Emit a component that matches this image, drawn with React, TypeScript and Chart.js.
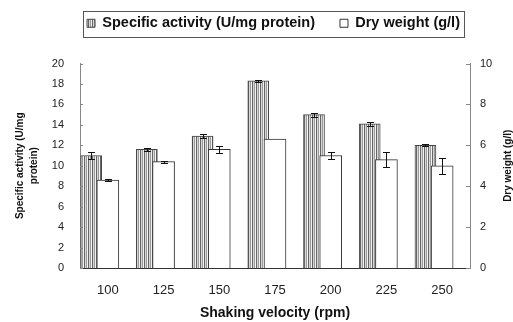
import React, { useEffect, useRef } from 'react';
import { Chart, registerables } from 'chart.js';

Chart.register(...registerables);

const categories = ['100', '125', '150', '175', '200', '225', '250'];
const specificActivity = [11.0, 11.6, 12.9, 18.3, 15.0, 14.1, 12.0];
const specificActivityErr = [0.35, 0.15, 0.2, 0.1, 0.2, 0.2, 0.1];
const dryWeight = [4.3, 5.2, 5.8, 6.3, 5.5, 5.3, 5.0];
const dryWeightErr = [0.05, 0.05, 0.18, 0, 0.15, 0.35, 0.4];

const leftAxis = { min: 0, max: 20, step: 2 };
const rightAxis = { min: 0, max: 10, step: 2 };
// specific-activity bars sit left of the category centre (fraction of a category)
const specificShift = 0.3;

const FONT = "'Liberation Sans', Arial, sans-serif";

function makeStripe(): CanvasPattern | string {
  const c = document.createElement('canvas');
  c.width = 4;
  c.height = 4;
  const g = c.getContext('2d');
  if (!g) return '#aaa';
  const cols = ['#666666', '#d6d6d6', '#9c9c9c', '#f2f2f2'];
  cols.forEach((col, i) => {
    g.fillStyle = col;
    g.fillRect(i, 0, 1, 4);
  });
  return g.createPattern(c, 'repeat') || '#aaa';
}

const errorBarPlugin = {
  id: 'errorBars',
  afterDatasetsDraw(chart: any) {
    const ctx = chart.ctx;
    const sets = [
      { idx: 0, vals: specificActivity, errs: specificActivityErr, axis: 'y' },
      { idx: 1, vals: dryWeight, errs: dryWeightErr, axis: 'y1' },
    ];
    ctx.save();
    ctx.strokeStyle = '#111';
    ctx.lineWidth = 1;
    sets.forEach((s) => {
      const meta = chart.getDatasetMeta(s.idx);
      const scale = chart.scales[s.axis];
      meta.data.forEach((el: any, i: number) => {
        const e = s.errs[i];
        if (!e) return;
        const x = Math.round(el.x) + 0.5;
        const yt = Math.round(scale.getPixelForValue(s.vals[i] + e)) + 0.5;
        const yb = Math.round(scale.getPixelForValue(s.vals[i] - e)) + 0.5;
        ctx.beginPath();
        ctx.moveTo(x, yt);
        ctx.lineTo(x, yb);
        ctx.moveTo(x - 3.5, yt);
        ctx.lineTo(x + 3.5, yt);
        ctx.moveTo(x - 3.5, yb);
        ctx.lineTo(x + 3.5, yb);
        ctx.stroke();
      });
    });
    ctx.restore();
  },
};

const decorPlugin = {
  id: 'decor',
  afterLayout(chart: any) {
    const lg = chart.legend;
    if (lg) {
      lg.left += 17;
      lg.right += 17;
    }
  },
  afterDraw(chart: any) {
    const ctx = chart.ctx;
    ctx.save();
    ctx.strokeStyle = '#888';
    ctx.lineWidth = 1;
    const ys = chart.scales.y;
    ys.ticks.forEach((t: any) => {
      const py = Math.round(ys.getPixelForValue(t.value)) + 0.5;
      ctx.beginPath();
      ctx.moveTo(ys.right, py);
      ctx.lineTo(ys.right + 3, py);
      ctx.stroke();
    });
    const yr = chart.scales.y1;
    yr.ticks.forEach((t: any) => {
      const py = Math.round(yr.getPixelForValue(t.value)) + 0.5;
      ctx.beginPath();
      ctx.moveTo(yr.left, py);
      ctx.lineTo(yr.left - 4, py);
      ctx.stroke();
    });
    ctx.fillStyle = '#111';
    ctx.font = `bold 10px ${FONT}`;
    ctx.textAlign = 'center';
    ctx.textBaseline = 'middle';
    ctx.translate(508, (chart.chartArea.top + chart.chartArea.bottom) / 2);
    ctx.rotate(-Math.PI / 2);
    ctx.fillText('Dry weight (g/l)', 0, 0);
    ctx.restore();
    const lg = chart.legend;
    if (lg && lg.legendHitBoxes && lg.legendHitBoxes.length) {
      const hb = lg.legendHitBoxes;
      let l = Infinity, r = -Infinity, t = Infinity, b = -Infinity;
      hb.forEach((h: any) => {
        l = Math.min(l, h.left);
        r = Math.max(r, h.left + h.width);
        t = Math.min(t, h.top);
        b = Math.max(b, h.top + h.height);
      });
      ctx.save();
      ctx.strokeStyle = '#555';
      ctx.lineWidth = 1;
      ctx.strokeRect(Math.round(l - 4) + 0.5, Math.round(t - 5) + 0.5, Math.round(r - l + 8), Math.round(b - t + 11));
      ctx.restore();
    }
  },
};

export default function App() {
  const ref = useRef<HTMLCanvasElement | null>(null);
  useEffect(() => {
    if (!ref.current) return;
    const stripe = makeStripe();
    const chart = new Chart(ref.current, {
      type: 'bar',
      data: {
        labels: categories,
        datasets: [
          {
            label: 'Specific activity (U/mg protein)',
            data: specificActivity.map((y, i) => ({ x: i, y })),
            backgroundColor: stripe as any,
            borderColor: '#444',
            borderWidth: 1,
            xAxisID: 'x2',
            yAxisID: 'y',
            order: 2,
            grouped: false,
            barThickness: 21,
          } as any,
          {
            label: 'Dry weight (g/l)',
            data: dryWeight,
            backgroundColor: '#ffffff',
            borderColor: '#333',
            borderWidth: 1,
            xAxisID: 'x',
            yAxisID: 'y1',
            order: 1,
            grouped: false,
            barThickness: 22,
          } as any,
        ],
      },
      options: {
        responsive: false,
        maintainAspectRatio: false,
        animation: false,
        layout: { padding: { top: -9, left: 0, right: 0, bottom: 0 } },
        plugins: {
          tooltip: { enabled: false },
          title: {
            display: true,
            text: '',
            font: { size: 10, lineHeight: 1.2 },
            padding: { top: 0, bottom: 11 },
          },
          legend: {
            position: 'top',
            weight: 3000,
            labels: {
              boxWidth: 8,
              boxHeight: 8,
              padding: 25,
              color: '#111',
              font: { family: FONT, size: 14.5, weight: 'bold' },
              sort: (a: any, b: any) => a.datasetIndex - b.datasetIndex,
            },
          },
        },
        scales: {
          x: {
            type: 'category',
            offset: true,
            grid: { display: false, drawTicks: false },
            border: { display: true, color: '#333', width: 1 },
            ticks: { color: '#222', font: { family: FONT, size: 13 }, padding: 15 },
            title: {
              display: true,
              text: 'Shaking velocity (rpm)',
              color: '#111',
              font: { family: FONT, size: 14, weight: 'bold' },
              padding: { top: 6, bottom: 0 },
            },
            afterFit: (s: any) => {
              s.height = 54;
            },
          },
          x2: {
            type: 'linear',
            display: false,
            offset: false,
            min: -0.5 + specificShift,
            max: categories.length - 0.5 + specificShift,
            grid: { display: false, offset: false },
            ticks: { stepSize: 1, includeBounds: false },
          },
          y: {
            position: 'left',
            min: leftAxis.min,
            max: leftAxis.max,
            grid: { display: false, drawTicks: false },
            border: { display: true, color: '#888', width: 1 },
            ticks: { stepSize: leftAxis.step, color: '#222', font: { family: FONT, size: 11 }, padding: 16 },
            title: {
              display: true,
              text: ['Specific activity (U/mg', 'protein)'],
              color: '#111',
              font: { family: FONT, size: 10, weight: 'bold', lineHeight: 1.4 },
              padding: { top: 13, bottom: 0 },
            },
            afterFit: (s: any) => {
              s.width = 80;
            },
          },
          y1: {
            position: 'right',
            min: rightAxis.min,
            max: rightAxis.max,
            grid: { display: false, drawTicks: false },
            border: { display: true, color: '#888', width: 1 },
            ticks: { stepSize: rightAxis.step, color: '#222', font: { family: FONT, size: 11 }, padding: 10 },
            afterFit: (s: any) => {
              s.width = 43;
            },
          },
        },
      } as any,
      plugins: [errorBarPlugin, decorPlugin],
    });
    return () => chart.destroy();
  }, []);
  return (
    <div style={{ position: 'fixed', left: 0, top: 0, width: 513, height: 322, background: '#fff' }}>
      <canvas ref={ref} width={513} height={322} style={{ display: 'block' }} />
    </div>
  );
}
